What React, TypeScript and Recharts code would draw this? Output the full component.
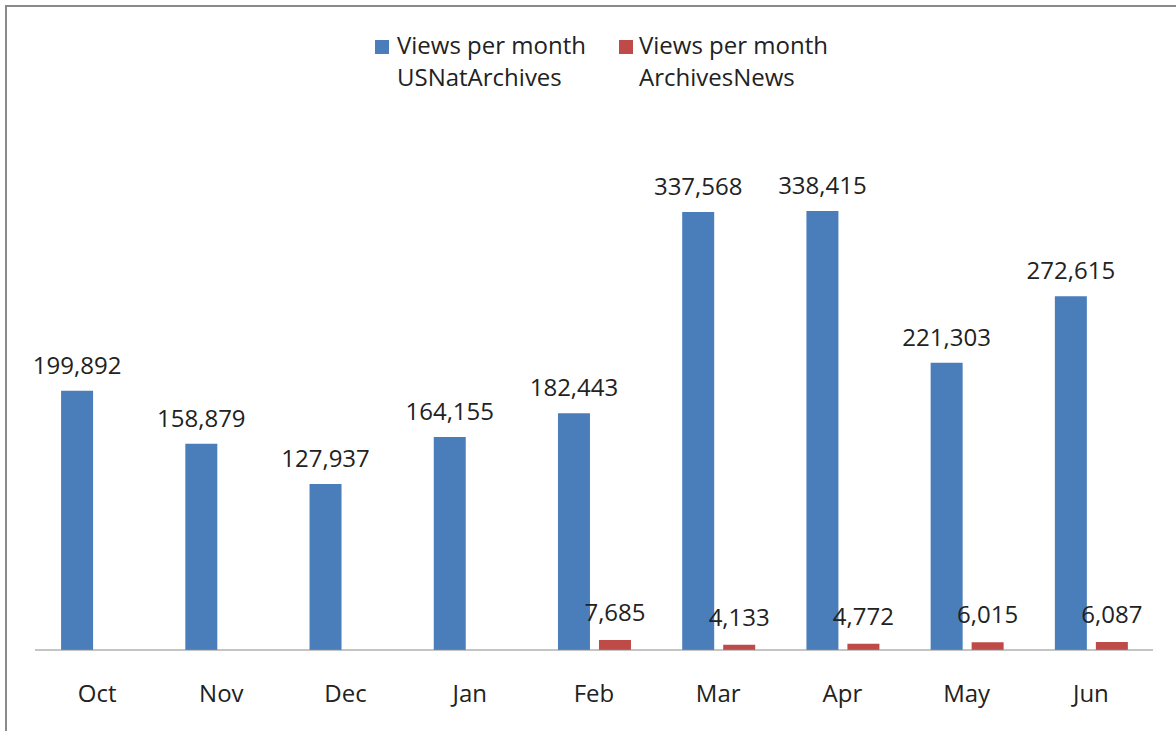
import { BarChart, Bar, XAxis, YAxis, Legend, LabelList } from 'recharts'

const months = ['Oct', 'Nov', 'Dec', 'Jan', 'Feb', 'Mar', 'Apr', 'May', 'Jun']
const usNatArchives = [199892, 158879, 127937, 164155, 182443, 337568, 338415, 221303, 272615]
const archivesNews = [null, null, null, null, 7685, 4133, 4772, 6015, 6087]

const BLUE = '#4a7ebb'
const RED = '#be4b48'
const FONT = '"Open Sans", sans-serif'

const data = months.map((m, i) => ({
    month: m,
    usNat: usNatArchives[i],
    news: archivesNews[i]
}))

const fmt = (v: any) => (v == null ? '' : Number(v).toLocaleString('en-US'))

function LegendBox() {
    const items = [
        { color: BLUE, lines: ['Views per month', 'USNatArchives'], sq: 375, tx: 397 },
        { color: RED, lines: ['Views per month', 'ArchivesNews'], sq: 619, tx: 639 }
    ]
    return (
        <div style={{ position: 'relative', width: 1176, height: 100 }}>
            {items.map((it, i) => (
                <div key={i}>
                    <div style={{ position: 'absolute', left: it.sq, top: 40, width: 14, height: 14, background: it.color }} />
                    <div style={{ position: 'absolute', left: it.tx, top: 29, fontFamily: FONT, fontSize: 24, lineHeight: '32px', color: '#222', whiteSpace: 'nowrap' }}>
                        {it.lines[0]}<br />{it.lines[1]}
                    </div>
                </div>
            ))}
        </div>
    )
}

export default function App() {
    return (
        <div style={{ position: 'absolute', left: 0, top: 0, width: 1176, height: 731, background: '#fff', overflow: 'hidden' }}>
            <div style={{ position: 'absolute', left: 5, top: 5, width: 1200, height: 800, borderLeft: '2px solid #8a8a8a', borderTop: '2px solid #8a8a8a' }} />
            <BarChart
                width={1176}
                height={731}
                data={data}
                margin={{ top: 31, right: 23, left: 35, bottom: 0 }}
                barCategoryGap="21%"
                barGap={9}
            >
                <XAxis
                    dataKey="month"
                    height={81}
                    tickLine={false}
                    tickSize={0}
                    tickMargin={35}
                    stroke="#8a8a8a"
                    tick={{ fill: '#222', fontSize: 24, fontFamily: FONT }}
                    interval={0}
                />
                <YAxis hide domain={[0, 400000]} />
                <Legend
                    verticalAlign="top"
                    wrapperStyle={{ position: 'absolute', top: 0, left: 0, width: 1176, height: 100 }}
                    content={() => <LegendBox />}
                />
                <Bar dataKey="usNat" fill={BLUE} isAnimationActive={false}>
                    <LabelList dataKey="usNat" position="top" offset={17} formatter={fmt}
                        style={{ fill: '#222', fontSize: 24, fontFamily: FONT }} />
                </Bar>
                <Bar dataKey="news" fill={RED} isAnimationActive={false}>
                    <LabelList dataKey="news" position="top" offset={19} formatter={fmt}
                        style={{ fill: '#222', fontSize: 24, fontFamily: FONT }} />
                </Bar>
            </BarChart>
        </div>
    )
}
